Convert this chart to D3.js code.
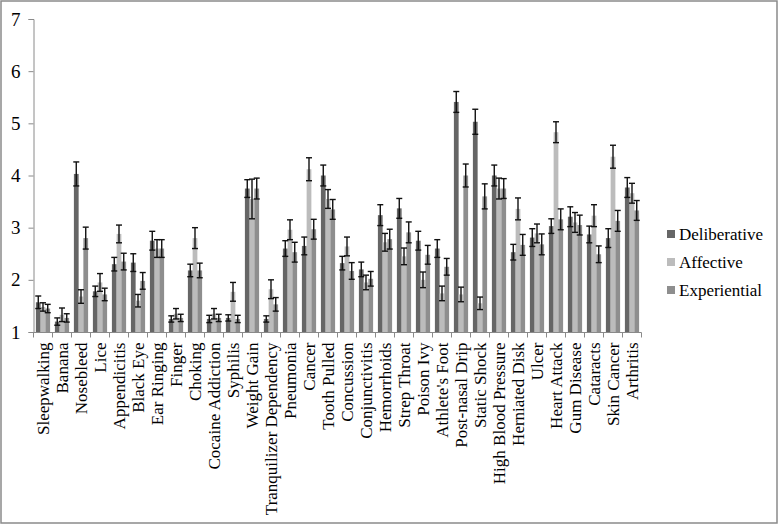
<!DOCTYPE html>
<html>
<head>
<meta charset="utf-8">
<script src="https://cdn.jsdelivr.net/npm/d3@7"></script>
<style>
  html, body { margin: 0; padding: 0; background: #fff; }
  #chart { width: 778px; height: 524px; }
  #chart text { font-family: "Liberation Serif", "Times New Roman", Times, "DejaVu Serif", serif; }
</style>
</head>
<body>
<div id="chart"></div>
<script>
const categories = ["Sleepwalking", "Banana", "Nosebleed", "Lice", "Appendicitis", "Black Eye",
  "Ear Ringing", "Finger", "Choking", "Cocaine Addiction", "Syphilis", "Weight Gain",
  "Tranquilizer Dependency", "Pneumonia", "Cancer", "Tooth Pulled", "Concussion",
  "Conjunctivitis", "Hemorrhoids", "Strep Throat", "Poison Ivy", "Athlete's Foot",
  "Post-nasal Drip", "Static Shock", "High Blood Pressure", "Herniated Disk", "Ulcer",
  "Heart Attack", "Gum Disease", "Cataracts", "Skin Cancer", "Arthritis"];

const seriesNames = ["Deliberative", "Affective", "Experiential"];

const deliberative = [1.57, 1.2, 4.03, 1.78, 2.3, 2.33, 2.75, 1.25, 2.18, 1.25, 1.27, 3.75,
  1.25, 2.6, 2.65, 4.0, 2.32, 2.2, 3.24, 3.37, 2.75, 2.6, 5.41, 5.03, 4.0, 2.53, 2.81,
  3.03, 3.21, 2.87, 2.8, 3.77];
const affective = [1.48, 1.33, 1.68, 1.95, 2.88, 1.6, 2.6, 1.35, 2.8, 1.35, 1.77, 3.55,
  1.82, 2.96, 4.12, 3.55, 2.64, 1.95, 2.72, 2.45, 2.0, 1.74, 1.72, 1.55, 3.75, 3.36, 2.89,
  4.83, 3.1, 3.23, 4.36, 3.66];
const experiential = [1.45, 1.27, 2.8, 1.72, 2.35, 1.98, 2.6, 1.27, 2.18, 1.27, 1.25, 3.75,
  1.53, 2.53, 2.97, 3.35, 2.17, 2.02, 2.78, 2.91, 2.48, 2.25, 4.0, 3.6, 3.75, 2.67, 2.68,
  3.16, 3.05, 2.49, 3.13, 3.33];

const deliberativeErr = [0.12, 0.07, 0.23, 0.1, 0.13, 0.17, 0.18, 0.06, 0.12, 0.07, 0.06, 0.17,
  0.06, 0.15, 0.17, 0.2, 0.13, 0.14, 0.2, 0.19, 0.18, 0.17, 0.2, 0.24, 0.2, 0.15, 0.17,
  0.14, 0.19, 0.16, 0.18, 0.19];
const affectiveErr = [0.08, 0.13, 0.13, 0.17, 0.17, 0.12, 0.17, 0.1, 0.2, 0.1, 0.18, 0.38,
  0.18, 0.19, 0.22, 0.18, 0.18, 0.14, 0.17, 0.16, 0.15, 0.14, 0.14, 0.12, 0.2, 0.21, 0.18,
  0.2, 0.19, 0.21, 0.22, 0.19];
const experientialErr = [0.08, 0.08, 0.21, 0.12, 0.16, 0.16, 0.17, 0.07, 0.14, 0.07, 0.07, 0.2,
  0.13, 0.19, 0.19, 0.19, 0.16, 0.14, 0.19, 0.2, 0.18, 0.16, 0.22, 0.24, 0.19, 0.2, 0.2,
  0.2, 0.19, 0.16, 0.2, 0.19];

const yTicks = [1, 2, 3, 4, 5, 6, 7];

const width = 778;
const height = 524;

const svg = d3.select("#chart")
  .append("svg")
  .attr("width", width)
  .attr("height", height);

// outer frame
svg.append("rect")
  .attr("x", 1)
  .attr("y", 1)
  .attr("width", width - 2)
  .attr("height", height - 2)
  .attr("fill", "#fff")
  .attr("stroke", "#8a8a8a")
  .attr("stroke-width", 1.5);

const x = d3.scaleBand()
  .domain(categories)
  .range([33.5, 641.5])
  .paddingInner(0)
  .paddingOuter(0);

const xInner = d3.scaleBand()
  .domain(seriesNames)
  .range([2.4, x.bandwidth() - 2.4]);

const y = d3.scaleLinear()
  .domain([1, 7])
  .range([332, 19]);

const color = d3.scaleOrdinal()
  .domain(seriesNames)
  .range(["#666666", "#bcbcbc", "#8e8e8e"]);

const series = [
  { name: "Deliberative", values: deliberative, errs: deliberativeErr },
  { name: "Affective", values: affective, errs: affectiveErr },
  { name: "Experiential", values: experiential, errs: experientialErr }
];

// bars
series.forEach(s => {
  svg.append("g")
    .selectAll("rect")
    .data(categories)
    .join("rect")
    .attr("x", (c, i) => x(c) + xInner(s.name))
    .attr("y", (c, i) => y(s.values[i]))
    .attr("width", xInner.bandwidth())
    .attr("height", (c, i) => y(1) - y(s.values[i]))
    .attr("fill", color(s.name));
});

// error bars
series.forEach(s => {
  const g = svg.append("g")
    .attr("stroke", "#111")
    .attr("stroke-width", 1.4);
  categories.forEach((c, i) => {
    const cx = x(c) + xInner(s.name) + xInner.bandwidth() / 2;
    const hi = y(s.values[i] + s.errs[i]);
    const lo = y(s.values[i] - s.errs[i]);
    g.append("line").attr("x1", cx).attr("x2", cx).attr("y1", hi).attr("y2", lo);
    g.append("line").attr("x1", cx - 3).attr("x2", cx + 3).attr("y1", hi).attr("y2", hi);
    g.append("line").attr("x1", cx - 3).attr("x2", cx + 3).attr("y1", lo).attr("y2", lo);
  });
});

// y axis
const yAxis = svg.append("g")
  .attr("transform", "translate(33.5,0)")
  .call(d3.axisLeft(y).tickValues(yTicks).tickSize(5).tickPadding(8).tickFormat(d3.format("d")));
yAxis.attr("font-family", null);
yAxis.select(".domain").attr("stroke", "#8a8a8a");
yAxis.selectAll(".tick line").attr("stroke", "#8a8a8a");
yAxis.selectAll("text")
  .style("font-size", "19px")
  .attr("fill", "#000");

// x axis
const xAxis = svg.append("g")
  .attr("transform", "translate(0,332.5)");
xAxis.append("line")
  .attr("x1", x.range()[0])
  .attr("x2", x.range()[1])
  .attr("stroke", "#8a8a8a");
xAxis.selectAll(".tk")
  .data(categories.concat([null]))
  .join("line")
  .attr("class", "tk")
  .attr("x1", c => (c ? x(c) : x.range()[1]))
  .attr("x2", c => (c ? x(c) : x.range()[1]))
  .attr("y1", 0)
  .attr("y2", 5)
  .attr("stroke", "#8a8a8a");

xAxis.selectAll(".lbl")
  .data(categories)
  .join("text")
  .attr("class", "lbl")
  .attr("transform", c => "translate(" + (x(c) + x.bandwidth() / 2 + 0.5) + ",10) rotate(-90)")
  .attr("text-anchor", "end")
  .attr("dy", "0.35em")
  .style("font-size", "17px")
  .attr("fill", "#000")
  .text(c => c);

// legend
const legend = svg.append("g")
  .attr("transform", "translate(667,234)");

seriesNames.forEach((name, i) => {
  const row = legend.append("g")
    .attr("transform", "translate(0," + i * 28 + ")");

  row.append("rect")
    .attr("x", 0)
    .attr("y", -4)
    .attr("width", 8)
    .attr("height", 8)
    .attr("fill", color(name));

  row.append("text")
    .attr("x", 12)
    .attr("y", 0)
    .attr("dy", "0.35em")
    .style("font-size", "17px")
    .attr("fill", "#000")
    .text(name);
});
</script>
</body>
</html>
